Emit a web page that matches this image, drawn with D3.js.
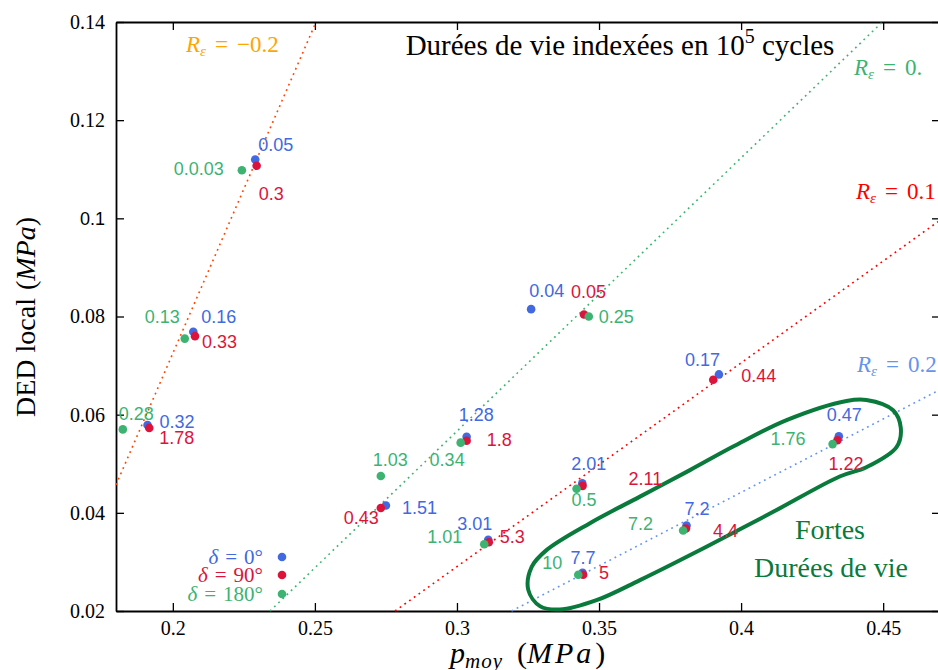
<!DOCTYPE html>
<html>
<head>
<meta charset="utf-8">
<script src="https://cdn.jsdelivr.net/npm/d3@7"></script>
<style>
  body { margin: 0; background: #fff; }
  svg { display: block; font-family: "Liberation Serif", "Times New Roman", serif; }
</style>
</head>
<body>
<div id="chart"></div>
<script>
const xTicks = [0.2, 0.25, 0.3, 0.35, 0.4, 0.45];
const yTicks = [0.02, 0.04, 0.06, 0.08, 0.1, 0.12, 0.14];

// delta = 0 deg
const pBlue = [0.2290, 0.2072, 0.1911, 0.3261, 0.3034, 0.2750, 0.3110, 0.3441, 0.3442, 0.3808, 0.3922, 0.4344];
const dBlue = [0.1120, 0.0769, 0.0579, 0.0815, 0.0555, 0.0415, 0.0345, 0.0460, 0.0278, 0.0374, 0.0682, 0.0556];
const lifeBlue = ["0.05", "0.16", "0.32", "0.04", "1.28", "1.51", "3.01", "2.01", "7.7", "7.2", "0.17", "0.47"];

// delta = 90 deg
const pRed = [0.2295, 0.2078, 0.1917, 0.3447, 0.3034, 0.2732, 0.3112, 0.3442, 0.3444, 0.3806, 0.3902, 0.4339];
const dRed = [0.1107, 0.0760, 0.0573, 0.0804, 0.0547, 0.0410, 0.0340, 0.0455, 0.0274, 0.0368, 0.0671, 0.0548];
const lifeRed = ["0.3", "0.33", "1.78", "0.05", "1.8", "0.43", "5.3", "2.11", "5", "4.4", "0.44", "1.22"];

// delta = 180 deg
const pGreen = [0.2243, 0.2042, 0.1824, 0.3464, 0.3013, 0.2732, 0.3096, 0.3421, 0.3427, 0.3796, 0.4322];
const dGreen = [0.1098, 0.0755, 0.0570, 0.0800, 0.0543, 0.0475, 0.0336, 0.0449, 0.0274, 0.0364, 0.0540];
const lifeGreen = ["0.0.03", "0.13", "0.28", "0.25", "0.34", "1.03", "1.01", "0.5", "10", "7.2", "1.76"];

// iso R_epsilon lines (end points)
const rNames = ["\u22120.2", "0.", "0.1", "0.2"];
const rLines = [
  [[0.18, 0.0457], [0.2504, 0.14]],
  [[0.2342, 0.02], [0.4497, 0.14]],
  [[0.2782, 0.02], [0.47, 0.0996]],
  [[0.3192, 0.02], [0.47, 0.0651]]
];

// outline of the "Fortes Durées de vie" zone
const zone = [
  [0.4441, 0.0630], [0.4535, 0.0609], [0.4562, 0.0573], [0.4547, 0.0534], [0.4441, 0.0493],
  [0.4347, 0.0474], [0.4113, 0.0402], [0.3878, 0.0331], [0.3644, 0.0263], [0.3491, 0.0222],
  [0.3362, 0.0203], [0.3292, 0.0210], [0.3251, 0.0243], [0.3263, 0.0290], [0.3315, 0.0324],
  [0.3468, 0.0379], [0.3644, 0.0433], [0.3820, 0.0487], [0.3972, 0.0535], [0.4160, 0.0589],
  [0.4371, 0.0628]
];

// label placement, px offset from its dot
const offBlue = [[3,-8,"start"],[8,-9,"start"],[12,3,"start"],[-2,-12,"start"],[-8,-16,"start"],[16,9,"start"],
                 [-31,-10,"start"],[-11,-13,"start"],[-12,-9,"start"],[-2,-11,"start"],[-34,-8,"start"],[-12,-15,"start"]];
const offRed = [[2,34,"start"],[7,12,"start"],[10,16,"start"],[-13,-17,"start"],[20,5,"start"],[-2,16,"end"],
                [11,1,"start"],[46,-1,"start"],[16,4,"start"],[27,8,"start"],[28,2,"start"],[-9,30,"start"]];
const offGreen = [[-18,5,"end"],[-5,-16,"end"],[-4,-9,"start"],[10,6,"start"],[4,23,"end"],[-8,-10,"start"],
                  [-22,-1,"end"],[-5,17,"start"],[-16,-6,"end"],[-30,-1,"end"],[-27,1,"end"]];

const W = 938, H = 670;
const svg = d3.select("#chart").append("svg")
    .attr("width", W)
    .attr("height", H);

const x = d3.scaleLinear().domain([0.18, 0.47]).range([116, 940]);
const y = d3.scaleLinear().domain([0.02, 0.14]).range([611, 22]);

// axes, ticks pointing inward
const fmt = d3.format("");
const gx = svg.append("g").attr("transform", "translate(0,611)")
    .call(d3.axisBottom(x).tickValues(xTicks).tickFormat(fmt).tickSizeInner(-8).tickSizeOuter(0).tickPadding(10));
const gy = svg.append("g").attr("transform", "translate(116,0)")
    .call(d3.axisLeft(y).tickValues(yTicks).tickFormat(fmt).tickSizeInner(-8).tickSizeOuter(0).tickPadding(11));
svg.append("g").attr("transform", "translate(0,22)")
    .call(d3.axisTop(x).tickValues(xTicks).tickFormat("").tickSizeInner(-8).tickSizeOuter(0));
svg.append("g").attr("transform", "translate(940,0)")
    .call(d3.axisRight(y).tickValues(yTicks).tickFormat("").tickSizeInner(-8).tickSizeOuter(0));

svg.selectAll(".domain").attr("stroke", "#000").attr("stroke-width", 1.8);
svg.selectAll(".tick line").attr("stroke", "#000").attr("stroke-width", 1.3);
svg.selectAll(".tick text")
    .attr("font-family", "'Liberation Serif', serif")
    .attr("font-size", 20)
    .attr("fill", "#000");
// the 0.1 label is set in a sans font in the original
gy.selectAll(".tick text").filter(d => d === 0.1)
    .attr("font-family", "'Liberation Sans', Arial, sans-serif")
    .attr("font-size", 18);

// R_epsilon lines
const rLineColors = ["#ff4500", "#3cb371", "#ff0000", "#6495ed"];
const line = d3.line().x(d => x(d[0])).y(d => y(d[1]));
svg.append("g").selectAll("path")
  .data(rLines)
  .enter()
  .append("path")
    .attr("d", line)
    .attr("fill", "none")
    .attr("stroke", (d, i) => rLineColors[i])
    .attr("stroke-width", 1.6)
    .attr("stroke-dasharray", "1.8 4");

// R_epsilon labels
const rLabelColors = ["#ffa500", "#3cb371", "#ff0000", "#6495ed"];
const rLabelPos = [[186, 52], [854, 75], [856, 199], [857, 372]];
rNames.forEach((name, i) => {
  const t = svg.append("text")
      .attr("x", rLabelPos[i][0])
      .attr("y", rLabelPos[i][1])
      .attr("fill", rLabelColors[i])
      .attr("font-size", 23);
  t.append("tspan").attr("font-style", "italic").text("R");
  t.append("tspan").attr("font-size", 15).attr("font-style", "italic").attr("dy", 4).text("\u03b5");
  t.append("tspan").attr("dy", -4).attr("dx", 9).text("=");
  t.append("tspan").attr("dx", 9).text(name);
});

// title
const title = svg.append("text")
    .attr("x", 620)
    .attr("y", 55)
    .attr("text-anchor", "middle")
    .attr("font-size", 29)
    .attr("fill", "#000");
title.append("tspan").text("Durées de vie indexées en 10");
title.append("tspan").attr("font-size", 20).attr("dy", -12).text("5");
title.append("tspan").attr("dy", 12).text(" cycles");

// high life zone
svg.append("path")
    .datum(zone)
    .attr("d", d3.line().x(d => x(d[0])).y(d => y(d[1])).curve(d3.curveCatmullRomClosed))
    .attr("fill", "none")
    .attr("stroke", "#0a7a3c")
    .attr("stroke-width", 4);
svg.append("text")
    .attr("x", 830).attr("y", 539)
    .attr("text-anchor", "middle")
    .attr("font-size", 28)
    .attr("fill", "#0a7a3c")
    .text("Fortes");
svg.append("text")
    .attr("x", 831).attr("y", 577)
    .attr("text-anchor", "middle")
    .attr("font-size", 28)
    .attr("fill", "#0a7a3c")
    .text("Durées de vie");

// dots + life labels
const series = [
  { p: pBlue, d: dBlue, life: lifeBlue, off: offBlue, color: "#4169e1" },
  { p: pRed, d: dRed, life: lifeRed, off: offRed, color: "#dc143c" },
  { p: pGreen, d: dGreen, life: lifeGreen, off: offGreen, color: "#3cb371" }
];
series.forEach(s => {
  const pts = s.p.map((p, i) => ({ p: p, d: s.d[i], life: s.life[i], off: s.off[i] }));
  svg.append("g").selectAll("circle")
    .data(pts)
    .enter()
    .append("circle")
      .attr("cx", d => x(d.p))
      .attr("cy", d => y(d.d))
      .attr("r", 4.3)
      .attr("fill", s.color);
  svg.append("g").selectAll("text")
    .data(pts)
    .enter()
    .append("text")
      .attr("x", d => x(d.p) + d.off[0])
      .attr("y", d => y(d.d) + d.off[1])
      .attr("text-anchor", d => d.off[2])
      .attr("font-family", "'Liberation Sans', Arial, sans-serif")
      .attr("font-size", 18)
      .attr("fill", s.color)
      .text(d => d.life);
});

// legend
const legendNames = ["0°", "90°", "180°"];
const legendColors = ["#4169e1", "#dc143c", "#3cb371"];
const legendY = [557, 575, 594];
legendNames.forEach((n, i) => {
  const t = svg.append("text")
      .attr("x", 263)
      .attr("y", legendY[i] + 7)
      .attr("text-anchor", "end")
      .attr("font-size", 21)
      .attr("fill", legendColors[i]);
  t.append("tspan").attr("font-style", "italic").text("\u03b4");
  t.append("tspan").attr("dx", 7).text("=");
  t.append("tspan").attr("dx", 7).text(n);
  svg.append("circle")
      .attr("cx", 282)
      .attr("cy", legendY[i])
      .attr("r", 4.3)
      .attr("fill", legendColors[i]);
});

// axis titles
const yl = svg.append("text")
    .attr("transform", "translate(35,317) rotate(-90)")
    .attr("text-anchor", "middle")
    .attr("font-size", 28)
    .attr("fill", "#000");
yl.append("tspan").text("DED local");
yl.append("tspan").attr("dx", 8).text("(");
yl.append("tspan").attr("font-style", "italic").text("MPa");
yl.append("tspan").text(")");

const xl = svg.append("text")
    .attr("x", 450)
    .attr("y", 663)
    .attr("font-size", 30)
    .attr("fill", "#000");
xl.append("tspan").attr("font-style", "italic").text("p");
xl.append("tspan").attr("font-style", "italic").attr("font-size", 21).attr("dy", 5).attr("letter-spacing", 1).text("moy");
xl.append("tspan").attr("dy", -5).attr("dx", 14).text("(");
xl.append("tspan").attr("font-style", "italic").attr("letter-spacing", 3).text("MPa");
xl.append("tspan").attr("dx", 1).text(")");
</script>
</body>
</html>
